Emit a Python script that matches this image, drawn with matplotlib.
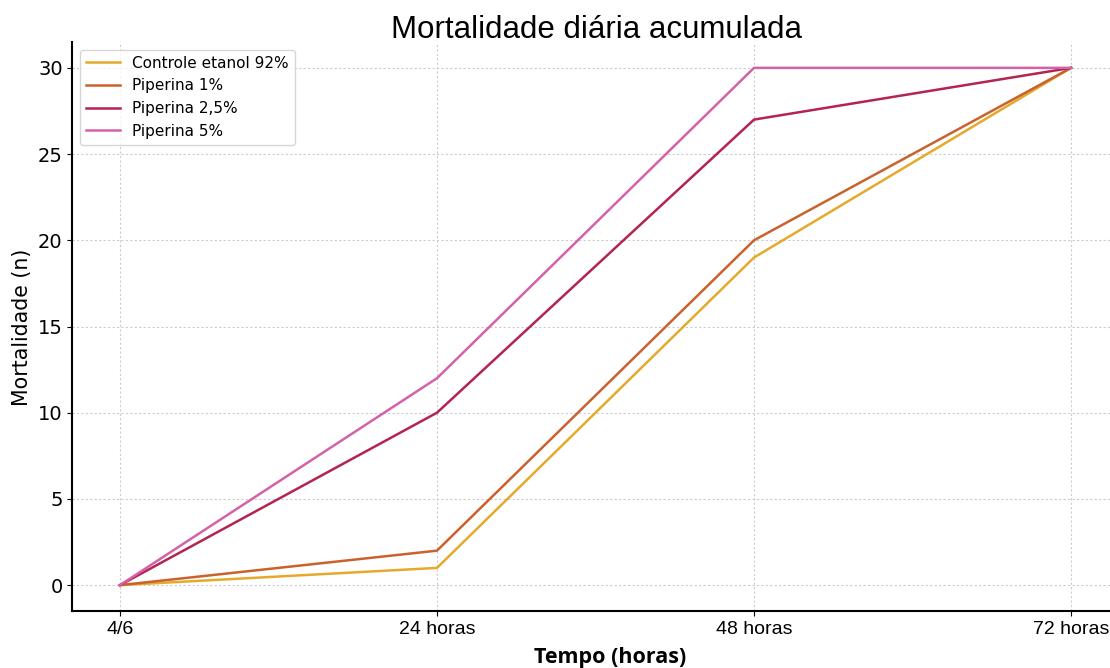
import matplotlib
matplotlib.use("Agg")
import matplotlib.pyplot as plt

categories = ["4/6", "24 horas", "48 horas", "72 horas"]
series_names = ["Controle etanol 92%", "Piperina 1%", "Piperina 2,5%", "Piperina 5%"]
controle = [0, 1, 19, 30]
piperina_1 = [0, 2, 20, 30]
piperina_25 = [0, 10, 27, 30]
piperina_5 = [0, 12, 30, 30]
colors = ["#E5AA2C", "#C9622C", "#B3244F", "#D462A9"]

fig = plt.figure(figsize=(11.1, 6.68), dpi=100)
ax = fig.add_axes([72.4 / 1110, (668 - 611) / 668, (1118.6 - 72.4) / 1110, (611 - 42) / 668])

x = list(range(len(categories)))
for vals, name, c in zip([controle, piperina_1, piperina_25, piperina_5], series_names, colors):
    ax.plot(x, vals, color=c, lw=1.8, label=name)

ax.set_xlim(-0.15, 3.15)
ax.set_ylim(-1.5, 31.5)
ax.set_xticks(x)
ax.set_xticklabels(categories, fontsize=14, family="Liberation Sans")
ax.set_yticks([0, 5, 10, 15, 20, 25, 30])
ax.tick_params(axis="y", labelsize=14)
for lab in ax.get_yticklabels():
    lab.set_family("DejaVu Sans")
ax.grid(True, linestyle=(0, (2, 2)), color="#cccccc", lw=0.8)
ax.spines["top"].set_visible(False)
ax.spines["right"].set_visible(False)
ax.spines["left"].set_linewidth(1.5)
ax.spines["bottom"].set_linewidth(1.5)

leg = ax.legend(loc="upper left", fontsize=11, frameon=True, fancybox=True,
                handlelength=2.2, borderaxespad=0.5, labelspacing=0.5)
leg.get_frame().set_edgecolor("#cccccc")

fig.text(597 / 1110, 1 - 30 / 668, "Mortalidade diária acumulada", ha="center", va="center",
         fontsize=22.5, family="Liberation Sans")
fig.text(22 / 1110, 1 - 327 / 668, "Mortalidade (n)", rotation=90, ha="center", va="center",
         fontsize=14.8, family="DejaVu Sans")
fig.text(610 / 1110, 1 - 657 / 668, "Tempo (horas)", ha="center", va="center",
         fontsize=15.5, family="Open Sans", fontweight="bold")

fig.savefig("out.png", dpi=100)
